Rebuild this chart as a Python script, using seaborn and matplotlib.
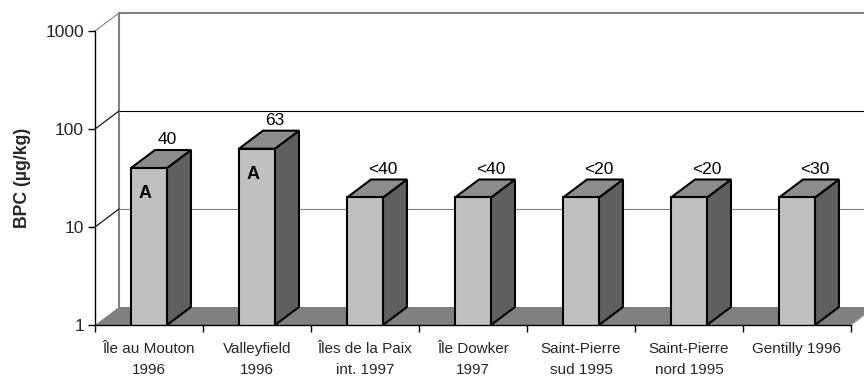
import matplotlib
matplotlib.use("Agg")
import matplotlib.pyplot as plt
import seaborn as sns
import pandas as pd
from matplotlib.patches import Polygon
from matplotlib.lines import Line2D
from matplotlib.transforms import ScaledTranslation, IdentityTransform

# ---- data -------------------------------------------------------------
sites = [
    "Île au Mouton\n1996",
    "Valleyfield\n1996",
    "Îles de la Paix\nint. 1997",
    "Île Dowker\n1997",
    "Saint-Pierre\nsud 1995",
    "Saint-Pierre\nnord 1995",
    "Gentilly 1996",
]
bpc = [40, 63, 20, 20, 20, 20, 20]
value_labels = ["40", "63", "<40", "<40", "<20", "<20", "<30"]
codes = ["A", "A", "", "", "", "", ""]
y_ticks = [1, 10, 100, 1000]
y_tick_labels = ["1", "10", "100", "1000"]

df = pd.DataFrame({"site": sites, "bpc": bpc})

# ---- styling ----------------------------------------------------------
sns.set_style("white")
plt.rcParams["font.family"] = ["Liberation Sans", "DejaVu Sans"]

FRONT = "#C0C0C0"
SIDE = "#5F5F5F"
TOP = "#8C8C8C"
FLOOR = "#808080"
WALL_EDGE = "#808080"
EDGE_LW = 1.5
BAR_W = 0.333

DPI = 100
fig = plt.figure(figsize=(8.64, 3.77), dpi=DPI)
ax = fig.add_axes([95 / 864, 52 / 377, 756 / 864, 294 / 377])
ax.set_yscale("log")

sns.barplot(data=df, x="site", y="bpc", color=FRONT, saturation=1,
            edgecolor="black", linewidth=EDGE_LW, width=BAR_W,
            errorbar=None, ax=ax, zorder=3)

n = len(sites)
ax.set_xlim(-0.5, n - 0.5)
ax.set_ylim(1, 1000)

# depth of the pseudo-3D box (pixels right / up)
depth = ScaledTranslation(24 / DPI, 18 / DPI, fig.dpi_scale_trans)
front = ax.transData
back = ax.transData + depth
ident = IdentityTransform()


def fpt(x, y):
    return front.transform((x, y))


def bpt(x, y):
    return back.transform((x, y))


x0, x1 = -0.5, n - 0.5

# back wall: gridlines and outline
ax.plot([x0, x1], [10, 10], color="#808080", lw=0.8, transform=back,
        clip_on=False, zorder=0.2)
ax.plot([x0, x1], [100, 100], color="black", lw=0.8, transform=back,
        clip_on=False, zorder=0.2)
ax.plot([x0, x0, x1 + 1], [1, 1000, 1000], color=WALL_EDGE, lw=1.5,
        transform=back, clip_on=False, zorder=0.3)

# left wall diagonals joining front axis ticks to the back wall
for v, c in [(10, "black"), (100, "black"), (1000, WALL_EDGE)]:
    p, q = fpt(x0, v), bpt(x0, v)
    ax.add_line(Line2D([p[0], q[0]], [p[1], q[1]], color=c, lw=0.8,
                       transform=ident, clip_on=False, zorder=0.3))

# floor
floor = Polygon([fpt(x0, 1), fpt(x1, 1), bpt(x1, 1), bpt(x0, 1)],
                closed=True, facecolor=FLOOR, edgecolor="none",
                transform=ident, clip_on=False, zorder=0.5)
ax.add_patch(floor)
p, q = fpt(x1, 1), bpt(x1, 1)
ax.add_line(Line2D([p[0], q[0]], [p[1], q[1]], color="#A0A0A0", lw=1.0,
                   transform=ident, clip_on=False, zorder=0.6))

# side and top faces of each bar
for i, v in enumerate(bpc):
    xl, xr = i - BAR_W / 2, i + BAR_W / 2
    side = Polygon([fpt(xr, 1), fpt(xr, v), bpt(xr, v), bpt(xr, 1)],
                   closed=True, facecolor=SIDE, edgecolor="black",
                   lw=EDGE_LW, joinstyle="miter", transform=ident,
                   clip_on=False, zorder=2)
    top = Polygon([fpt(xl, v), fpt(xr, v), bpt(xr, v), bpt(xl, v)],
                  closed=True, facecolor=TOP, edgecolor="black",
                  lw=EDGE_LW, joinstyle="miter", transform=ident,
                  clip_on=False, zorder=2)
    ax.add_patch(side)
    ax.add_patch(top)

# value labels above the bars and letters on the front faces
for i, (v, lab, code) in enumerate(zip(bpc, value_labels, codes)):
    ax.annotate(lab, xy=(i, v), xycoords="data", xytext=(18, 28),
                textcoords="offset pixels", ha="center", va="center",
                fontsize=12.5, color="black", zorder=5,
                annotation_clip=False)
    if code:
        ax.annotate(code, xy=(i, v), xycoords="data", xytext=(-4, -26),
                    textcoords="offset pixels", ha="center", va="center",
                    fontsize=13, fontweight="bold", color="black",
                    zorder=5)

# axes, ticks and labels
for s in ["top", "right"]:
    ax.spines[s].set_visible(False)
for s in ["left", "bottom"]:
    ax.spines[s].set_color("black")
    ax.spines[s].set_linewidth(1.0)
    ax.spines[s].set_zorder(4)

ax.set_yticks(y_ticks)
ax.set_yticklabels(y_tick_labels)
ax.yaxis.set_minor_locator(matplotlib.ticker.NullLocator())
ax.tick_params(axis="y", which="major", direction="out", length=5,
               width=1, color="black", labelsize=12.5, pad=3, left=True)

ax.set_xticks(range(n))
ax.set_xticklabels(sites, linespacing=1.62)
ax.set_xticks([k - 0.5 for k in range(n + 1)], minor=True)
ax.tick_params(axis="x", which="major", length=0, labelsize=11, pad=12.5)
ax.tick_params(axis="x", which="minor", direction="out", length=5,
               width=1, color="black", bottom=True)

ax.set_xlabel("")
ax.set_ylabel("BPC (µg/kg)", fontsize=12.7, fontweight="bold", labelpad=10)
ax.patch.set_visible(False)

fig.savefig("out.png", dpi=DPI)
